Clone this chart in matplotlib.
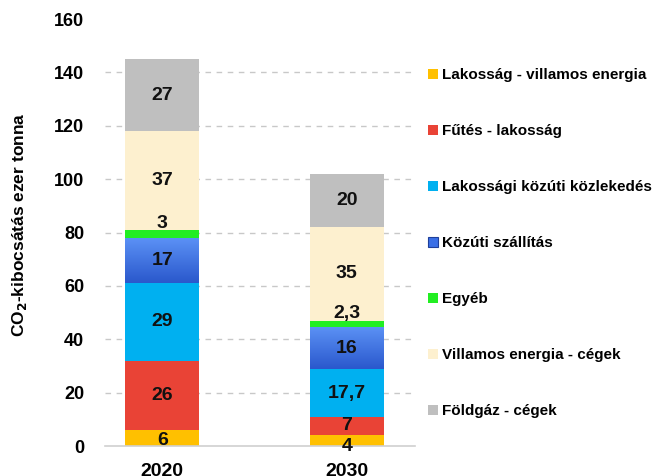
import matplotlib
matplotlib.use("Agg")
import matplotlib.pyplot as plt
import numpy as np
from matplotlib.patches import Patch
from matplotlib.colors import LinearSegmentedColormap

plt.rcParams['font.family'] = ['Liberation Sans', 'DejaVu Sans']
plt.rcParams['font.weight'] = 'bold'

years = ["2020", "2030"]
series = ["Lakosság - villamos energia", "Fűtés - lakosság", "Lakossági közúti közlekedés",
          "Közúti szállítás", "Egyéb", "Villamos energia - cégek", "Földgáz - cégek"]
values_2020 = [6, 26, 29, 17, 3, 37, 27]
values_2030 = [4, 7, 17.7, 16, 2.3, 35, 20]
labels_2020 = ["6", "26", "29", "17", "3", "37", "27"]
labels_2030 = ["4", "7", "17,7", "16", "2,3", "35", "20"]
colors = ["#FFC000", "#E94336", "#00B0F0", "#3A6FE6", "#22EE22", "#FDF0CF", "#BFBFBF"]
yticks = [0, 20, 40, 60, 80, 100, 120, 140, 160]

fig = plt.figure(figsize=(6.54, 4.76), dpi=100)
ax = fig.add_axes([0.1606, 0.063, 0.474, 0.897])

x = np.arange(len(years))
width = 0.4
data = np.array([values_2020, values_2030]).T
labels = [labels_2020, labels_2030]
bottoms = np.zeros(len(years))
blue_cmap = LinearSegmentedColormap.from_list("b", ["#2A58CC", "#5C92F6"])
for i, name in enumerate(series):
    bars = ax.bar(x, data[i], width, bottom=bottoms, color=colors[i], zorder=2, linewidth=0)
    if i == 3:
        for b in bars:
            grad = np.linspace(0, 1, 100).reshape(-1, 1)
            im = ax.imshow(grad, extent=[b.get_x(), b.get_x() + b.get_width(), b.get_y(), b.get_y() + b.get_height()],
                           origin='lower', cmap=blue_cmap, aspect='auto', zorder=2.5)
            im.set_clip_path(b)
    for j in range(len(years)):
        v = data[i][j]
        if i == 4:
            ypos = bottoms[j] + v + 2.5
        else:
            ypos = bottoms[j] + v / 2
        if i == 0:
            ypos = bottoms[j] + v / 2 - (1.0 if j == 0 else 2.0)
        ax.text(x[j], ypos, labels[j][i], ha='center', va='center', fontsize=14,
                fontweight='bold', color='#111111', zorder=4)
    bottoms += data[i]

ax.set_xlim(-0.31, 1.37)
ax.set_ylim(0, 160)
ax.set_yticks(yticks)
ax.set_yticklabels([str(t) for t in yticks], fontsize=13, fontweight='bold')
ax.set_xticks(x)
ax.set_xticklabels(years, fontsize=14, fontweight='bold')
ax.tick_params(axis='both', length=0)
ax.tick_params(axis='y', pad=15)
ax.tick_params(axis='x', pad=12)
for t in yticks[1:-1]:
    ax.axhline(t, color='#C8C8C8', linestyle=(0, (4, 4)), linewidth=1.0, zorder=1)
for s in ['top', 'right', 'left']:
    ax.spines[s].set_visible(False)
ax.spines['bottom'].set_color('#D0D0D0')
ax.spines['bottom'].set_linewidth(1.2)
ax.set_ylabel("CO$_2$-kibocsátás ezer tonna", fontsize=12.5, fontweight='bold')
ax.yaxis.set_label_coords(-0.245, 0.518)

handles = [Patch(facecolor=c, edgecolor='none') for c in colors]
handles[3] = Patch(facecolor="#3A6FE6", edgecolor='#1F3F9A', linewidth=0.8)
fig.legend(handles, series, loc='upper left', bbox_to_anchor=(0.655, 0.857), frameon=False,
           prop={'size': 11, 'weight': 'bold'}, handlelength=0.6, handleheight=0.6,
           handletextpad=0.3, labelspacing=2.75, borderaxespad=0, borderpad=0)

fig.savefig("out.png", dpi=100)
